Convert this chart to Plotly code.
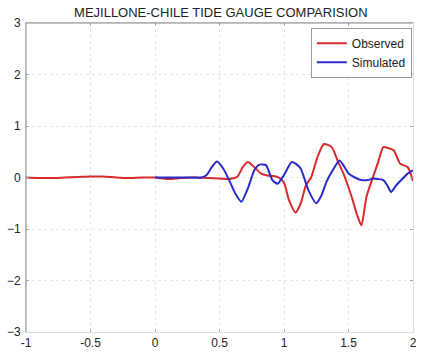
import plotly.graph_objects as go

# Observed tide gauge record
obs_t = [-1.0, -0.9, -0.8, -0.7, -0.6, -0.5, -0.4, -0.3, -0.2, -0.1, 0.0, 0.1, 0.2, 0.3, 0.4,
         0.5, 0.55, 0.6, 0.64, 0.68, 0.72, 0.77, 0.82, 0.87, 0.92, 0.96, 1.0, 1.04, 1.09, 1.13,
         1.17, 1.21, 1.26, 1.31, 1.37, 1.42, 1.46, 1.52, 1.57, 1.60, 1.64, 1.69, 1.73, 1.77,
         1.81, 1.85, 1.90, 1.96, 2.0]
obs_h = [0.0, -0.01, -0.01, 0.0, 0.01, 0.02, 0.02, 0.0, -0.01, 0.0, 0.0, -0.03, -0.01, 0.0, -0.01,
         -0.02, -0.03, -0.02, 0.02, 0.2, 0.30, 0.2, 0.08, 0.04, 0.03, 0.0, -0.1, -0.45, -0.68, -0.5,
         -0.15, 0.0, 0.4, 0.65, 0.59, 0.3, 0.08, -0.34, -0.75, -0.93, -0.37, 0.01, 0.3, 0.59,
         0.57, 0.53, 0.27, 0.2, -0.07]

# Simulated record
sim_t = [0.0, 0.1, 0.2, 0.3, 0.36, 0.40, 0.44, 0.48, 0.53, 0.58, 0.62, 0.67, 0.72, 0.77, 0.81,
         0.86, 0.91, 0.95, 1.0, 1.06, 1.10, 1.13, 1.19, 1.25, 1.29, 1.33, 1.38, 1.43, 1.47, 1.50,
         1.55, 1.60, 1.65, 1.69, 1.73, 1.77, 1.80, 1.83, 1.87, 1.92, 1.96, 2.0]
sim_h = [0.0, 0.0, 0.0, 0.0, 0.0, 0.05, 0.2, 0.31, 0.17, -0.08, -0.3, -0.47, -0.21, 0.14, 0.25,
         0.24, -0.05, -0.12, 0.05, 0.30, 0.25, 0.17, -0.25, -0.5, -0.35, -0.08, 0.15, 0.33, 0.2, 0.08,
         0.0, -0.05, -0.05, -0.02, -0.03, -0.05, -0.15, -0.28, -0.15, -0.02, 0.08, 0.14]

x_ticks = [-1, -0.5, 0, 0.5, 1, 1.5, 2]
x_labels = ["-1", "-0.5", "0", "0.5", "1", "1.5", "2"]
y_ticks = [-3, -2, -1, 0, 1, 2, 3]

family = "Liberation Sans, Arial, sans-serif"
font = dict(family=family, size=12, color="#222")

fig = go.Figure()
fig.add_trace(go.Scatter(x=obs_t, y=obs_h, mode="lines", name="Observed",
                         line=dict(color="#d82a2a", width=2, shape="spline", smoothing=0.6)))
fig.add_trace(go.Scatter(x=sim_t, y=sim_h, mode="lines", name="Simulated",
                         line=dict(color="#2a2ac8", width=2, shape="spline", smoothing=0.6)))

axis_common = dict(showgrid=True, gridcolor="#e6e6e6", griddash="dot", gridwidth=1,
                   zeroline=False, showline=True, linecolor="#dddddd", linewidth=1,
                   mirror="ticks", ticks="inside", ticklen=3, tickcolor="#aaa",
                   tickfont=font)

fig.update_layout(
    width=423, height=356,
    margin=dict(l=26, r=6, t=23, b=21),
    paper_bgcolor="white", plot_bgcolor="white",
    title=dict(text="MEJILLONE-CHILE TIDE GAUGE COMPARISION", x=0.522, xanchor="center",
               y=0.965, yanchor="middle", font=dict(family=family, size=13, color="#222")),
    xaxis=dict(range=[-1, 2], tickvals=x_ticks, ticktext=x_labels, ticklabelstandoff=0, **axis_common),
    yaxis=dict(range=[-3, 3], tickvals=y_ticks, ticklabelstandoff=2, **axis_common),
    legend=dict(x=0.997, y=0.985, xanchor="right", yanchor="top", bgcolor="white",
                bordercolor="#999", borderwidth=1, font=dict(family=family, size=12, color="#222"),
                tracegroupgap=0, itemwidth=30),
    showlegend=True,
)

# darker left and top frame edges
fig.add_shape(type="line", xref="paper", yref="paper", x0=0, x1=0, y0=0, y1=1,
              line=dict(color="#888", width=1))
fig.add_shape(type="line", xref="paper", yref="paper", x0=0, x1=1, y0=1, y1=1,
              line=dict(color="#888", width=1))

fig.write_html("out.html")
